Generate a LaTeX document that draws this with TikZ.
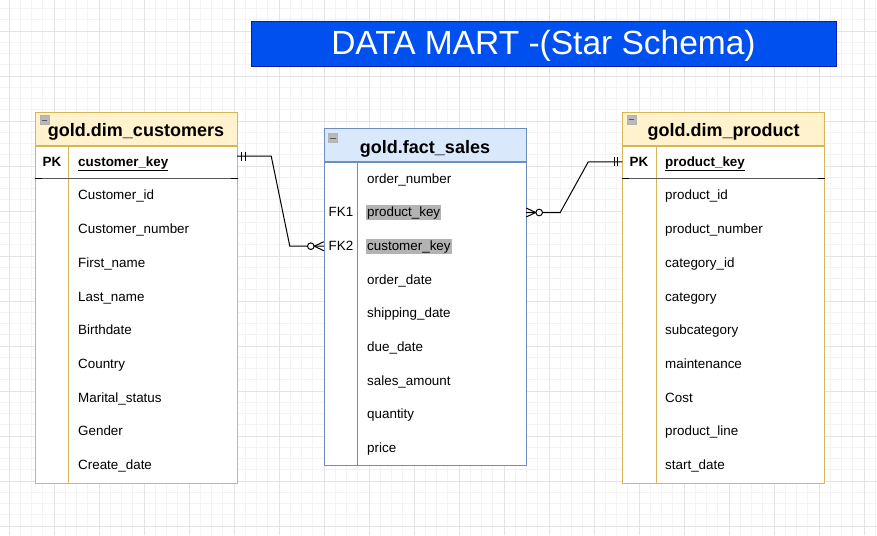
\documentclass[tikz,border=0pt]{standalone}
\usepackage{fontspec}
\setmainfont{Liberation Sans}
\definecolor{dimline}{HTML}{D6B656}
\definecolor{dimfill}{HTML}{FFF2CC}
\definecolor{factline}{HTML}{6C8EBF}
\definecolor{factfill}{HTML}{DAE8FC}
\definecolor{titlefill}{HTML}{0050EF}
\definecolor{titleline}{HTML}{001DBC}
\definecolor{gridminor}{HTML}{F3F3F3}
\definecolor{gridmajor}{HTML}{E4E4E4}
\definecolor{keymark}{HTML}{B3B3B3}
\tikzset{
  rowtxt/.style={anchor=west, inner sep=0pt, text height=11.4pt, text depth=2.6pt, font=\fontsize{13.4}{16}\selectfont},
  fktxt/.style={rowtxt, inner xsep=1pt, inner ysep=0.7pt, fill=keymark},
  keytxt/.style={inner sep=0pt, text height=11.4pt, text depth=2.6pt, font=\fontsize{13.4}{16}\selectfont},
  dimhead/.style={draw=dimline, fill=dimfill, line width=1pt, minimum width=202pt, minimum height=33pt, inner sep=0pt, text height=16pt, text depth=0pt, font=\fontsize{18}{22}\selectfont\bfseries},
  dimbody/.style={draw=dimline, fill=white, line width=1pt, minimum width=202pt, inner sep=0pt},
  facthead/.style={dimhead, draw=factline, fill=factfill},
  factbody/.style={dimbody, draw=factline},
  rowcell/.style={minimum width=202pt, minimum height=33pt, inner sep=0pt},
  foldbox/.style={draw=gray!60, fill=gray!55, line width=0.6pt, minimum size=9pt, inner sep=0pt},
  conn/.style={draw=black, line width=1pt},
}
\begin{document}
\begin{tikzpicture}[x=1pt, y=-1pt]
\useasboundingbox (0,0) rectangle (877,535);
\fill[white] (0,0) rectangle (877,535);
% grid
\foreach \i in {0,...,78} \draw[gridminor, line width=0.8pt] ({\i*11.25-2.25},0) -- ++(0,535);
\foreach \j in {0,...,48} \draw[gridminor, line width=0.8pt] (0,{\j*11.25-2.75}) -- ++(877,0);
\foreach \i in {0,...,19} \draw[gridmajor, line width=0.8pt] ({\i*45+9},0) -- ++(0,535);
\foreach \j in {0,...,11} \draw[gridmajor, line width=0.8pt] (0,{\j*45+31}) -- ++(877,0);
% title
\node[draw=titleline, fill=titlefill, line width=1pt, minimum width=585pt, minimum height=44pt, inner sep=0pt, text=white, text height=22pt, text depth=0pt, font=\fontsize{33.5}{38}\selectfont] (title) at (543.5,44) {DATA MART -(Star Schema)};

% customers
\node[dimhead] (custhead) at (136,128.5) {gold.dim\_customers};
\node[dimbody, minimum height=337pt, anchor=north] (custbody) at (custhead.south) {};
\draw[dimline, line width=1pt] ([xshift=34pt]custbody.north west) -- ([xshift=34pt]custbody.south west);
\draw[black!65, line width=1.8pt] ([yshift=-33pt]custbody.north west) -- ([yshift=-33pt]custbody.north east);
\draw[black, line width=1.8pt] ([yshift=-33pt]custbody.north west) -- ++(7,0);
\draw[black, line width=1.8pt] ([yshift=-33pt]custbody.north east) -- ++(-7,0);
\node[foldbox] (custfold) at (44.5,120) {};
\draw[black!65, line width=1pt] ([xshift=-2.8pt]custfold.center) -- ([xshift=2.8pt]custfold.center);
\node[rowcell] (ckrow) at (136,161.8) {};
\node[keytxt, font=\fontsize{13.4}{16}\selectfont\bfseries] (custpk) at (52,161.8) {PK};
\node[rowtxt, font=\fontsize{13.4}{16}\selectfont\bfseries] (c1) at (78,161.8) {\underline{customer\_key}};
\node[rowtxt] (c2) at (78,195.5) {Customer\_id};
\node[rowtxt] (c3) at (78,229.2) {Customer\_number};
\node[rowtxt] (c4) at (78,263) {First\_name};
\node[rowtxt] (c5) at (78,296.7) {Last\_name};
\node[rowtxt] (c6) at (78,330.4) {Birthdate};
\node[rowtxt] (c7) at (78,364) {Country};
\node[rowtxt] (c8) at (78,397.7) {Marital\_status};
\node[rowtxt] (c9) at (78,431.5) {Gender};
\node[rowtxt] (c10) at (78,465.2) {Create\_date};

% fact sales
\node[facthead] (facthead) at (425,145) {gold.fact\_sales};
\node[factbody, minimum height=303pt, anchor=north] (factbody) at (facthead.south) {};
\draw[factline, line width=1pt] ([xshift=34pt]factbody.north west) -- ([xshift=34pt]factbody.south west);
\node[foldbox] (factfold) at (333,138) {};
\draw[black!65, line width=1pt] ([xshift=-2.8pt]factfold.center) -- ([xshift=2.8pt]factfold.center);
\node[rowcell] (fk1row) at (425,212.5) {};
\node[rowcell] (fk2row) at (425,246.2) {};
\node[keytxt] (fk1) at (341,212.5) {FK1};
\node[keytxt] (fk2) at (341,246.2) {FK2};
\node[rowtxt] (f1) at (367,178.8) {order\_number};
\node[fktxt] (f2) at (366,212.5) {product\_key};
\node[fktxt] (f3) at (366,246.2) {customer\_key};
\node[rowtxt] (f4) at (367,279.8) {order\_date};
\node[rowtxt] (f5) at (367,313.5) {shipping\_date};
\node[rowtxt] (f6) at (367,347.2) {due\_date};
\node[rowtxt] (f7) at (367,380.8) {sales\_amount};
\node[rowtxt] (f8) at (367,414.5) {quantity};
\node[rowtxt] (f9) at (367,448.2) {price};

% products
\node[dimhead] (prodhead) at (723.5,128.5) {gold.dim\_product};
\node[dimbody, minimum height=337pt, anchor=north] (prodbody) at (prodhead.south) {};
\draw[dimline, line width=1pt] ([xshift=34pt]prodbody.north west) -- ([xshift=34pt]prodbody.south west);
\draw[black!65, line width=1.8pt] ([yshift=-33pt]prodbody.north west) -- ([yshift=-33pt]prodbody.north east);
\draw[black, line width=1.8pt] ([yshift=-33pt]prodbody.north west) -- ++(7,0);
\draw[black, line width=1.8pt] ([yshift=-33pt]prodbody.north east) -- ++(-7,0);
\node[foldbox] (prodfold) at (631.5,119.5) {};
\draw[black!65, line width=1pt] ([xshift=-2.8pt]prodfold.center) -- ([xshift=2.8pt]prodfold.center);
\node[rowcell] (pkrow) at (723.5,161.8) {};
\node[keytxt, font=\fontsize{13.4}{16}\selectfont\bfseries] (prodpk) at (639,161.8) {PK};
\node[rowtxt, font=\fontsize{13.4}{16}\selectfont\bfseries] (p1) at (665,161.8) {\underline{product\_key}};
\node[rowtxt] (p2) at (665,195.5) {product\_id};
\node[rowtxt] (p3) at (665,229.2) {product\_number};
\node[rowtxt] (p4) at (665,263) {category\_id};
\node[rowtxt] (p5) at (665,296.7) {category};
\node[rowtxt] (p6) at (665,330.4) {subcategory};
\node[rowtxt] (p7) at (665,364) {maintenance};
\node[rowtxt] (p8) at (665,397.7) {Cost};
\node[rowtxt] (p9) at (665,431.5) {product\_line};
\node[rowtxt] (p10) at (665,465.2) {start\_date};

% customers 1 -- 0..n sales
\draw[conn] ([yshift=5.8pt]ckrow.east) -- ++(34,0) -- ([xshift=-34pt]fk2row.west) -- (fk2row.west);
\draw[conn] ([xshift=4.5pt,yshift=5.8pt]ckrow.east) ++(0,-4.5) -- ++(0,9);
\draw[conn] ([xshift=8pt,yshift=5.8pt]ckrow.east) ++(0,-4.5) -- ++(0,9);
\draw[conn] ([xshift=-9.5pt]fk2row.west) -- ([yshift=4.5pt]fk2row.west);
\draw[conn] ([xshift=-9.5pt]fk2row.west) -- ([yshift=-4.5pt]fk2row.west);
\draw[conn, fill=white] ([xshift=-13pt]fk2row.west) circle[radius=3.3pt];
% products 1 -- 0..n sales
\draw[conn] (fk1row.east) -- ++(34,0) -- ([xshift=-34pt]pkrow.west) -- (pkrow.west);
\draw[conn] ([xshift=-4.5pt]pkrow.west) ++(0,-4.5) -- ++(0,9);
\draw[conn] ([xshift=-8pt]pkrow.west) ++(0,-4.5) -- ++(0,9);
\draw[conn] ([xshift=9.5pt]fk1row.east) -- ([yshift=4.5pt]fk1row.east);
\draw[conn] ([xshift=9.5pt]fk1row.east) -- ([yshift=-4.5pt]fk1row.east);
\draw[conn, fill=white] ([xshift=13pt]fk1row.east) circle[radius=3.3pt];
\end{tikzpicture}
\end{document}
